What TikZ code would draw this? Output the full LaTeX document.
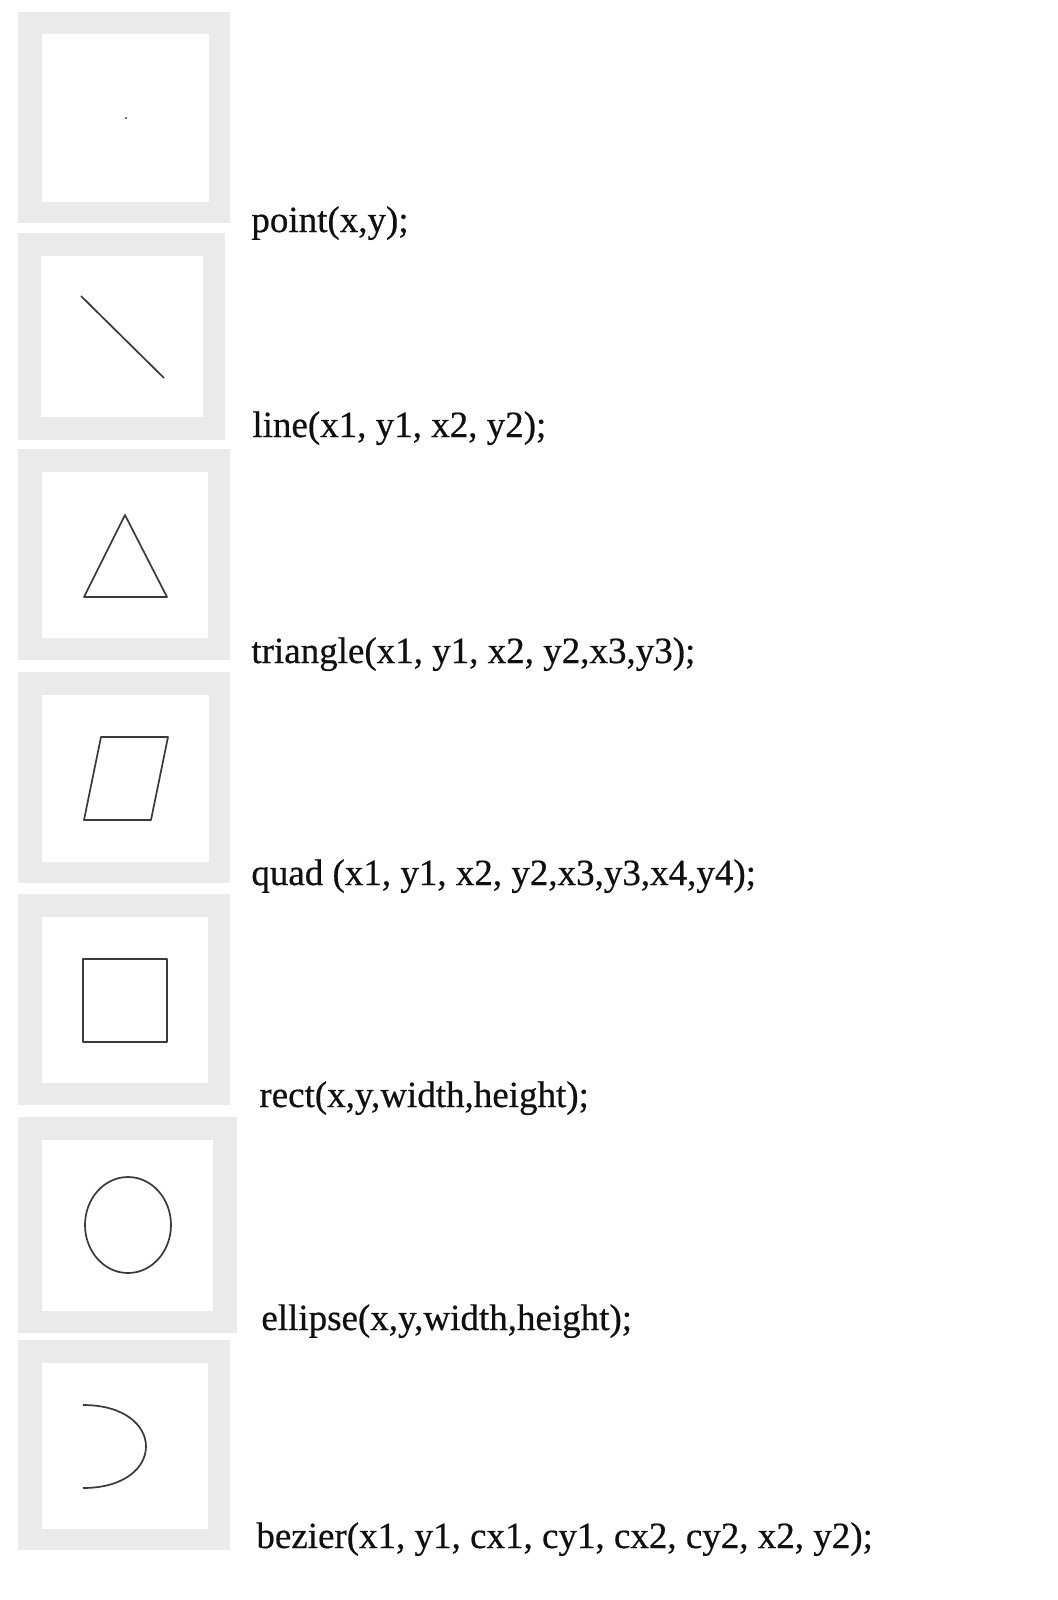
\documentclass[tikz,border=0pt]{standalone}
\usepackage{fontspec}
\setmainfont{Liberation Serif}
\newfontfamily\labelfont[FakeBold=0.5]{Liberation Serif}
\definecolor{framegray}{HTML}{EAEAEA}
\definecolor{shapegray}{HTML}{3A3A3A}
\definecolor{textblack}{HTML}{101010}
\tikzset{
  frameout/.style={fill=framegray, draw=none},
  framein/.style={fill=white, draw=none},
  figline/.style={draw=shapegray, line width=0.85pt, line join=round},
  label/.style={anchor=base west, inner sep=0pt, text=textblack, font=\labelfont\fontsize{18.5}{20}\selectfont}
}
\begin{document}
\begin{tikzpicture}[x=0.5pt,y=-0.5pt]
\useasboundingbox[fill=white] (0,0) rectangle (1057,1600);
% panel 1: point
\fill[frameout] (18,12) rectangle (230,223);
\fill[framein] (42,34) rectangle (209,202);
\fill[shapegray] (126,118) circle (1.2);
\node[label] (tpoint) at (251,232) {point(x,y);};
% panel 2: line
\fill[frameout] (18,233) rectangle (225,440);
\fill[framein] (41,256) rectangle (203,417);
\coordinate (l1) at (81,296);
\coordinate (l2) at (164,378);
\draw[figline] (l1) -- (l2);
\node[label] (tline) at (252,437) {line(x1, y1, x2, y2);};
% panel 3: triangle
\fill[frameout] (18,449) rectangle (230,660);
\fill[framein] (42,472) rectangle (208,638);
\coordinate (t1) at (125,515);
\coordinate (t2) at (84,597);
\coordinate (t3) at (167,597);
\draw[figline] (t1) -- (t2) -- (t3) -- cycle;
\node[label] (ttri) at (251,663) {triangle(x1, y1, x2, y2,x3,y3);};
% panel 4: quad
\fill[frameout] (18,672) rectangle (230,883);
\fill[framein] (42,695) rectangle (209,862);
\coordinate (q1) at (101,737);
\coordinate (q2) at (168,737);
\coordinate (q3) at (151,820);
\coordinate (q4) at (84,820);
\draw[figline] (q1) -- (q2) -- (q3) -- (q4) -- cycle;
\node[label] (tquad) at (251,885) {quad (x1, y1, x2, y2,x3,y3,x4,y4);};
% panel 5: rect
\fill[frameout] (18,894) rectangle (230,1105);
\fill[framein] (42,917) rectangle (208,1083);
\coordinate (r1) at (83,959);
\coordinate (r2) at (167,1042);
\draw[figline] (r1) rectangle (r2);
\node[label] (trect) at (259,1107) {rect(x,y,width,height);};
% panel 6: ellipse
\fill[frameout] (18,1117) rectangle (237,1333);
\fill[framein] (42,1140) rectangle (213,1311);
\coordinate (e0) at (128,1225);
\draw[figline] (e0) ellipse [x radius=43, y radius=48];
\node[label] (tell) at (261,1330) {ellipse(x,y,width,height);};
% panel 7: bezier
\fill[frameout] (18,1340) rectangle (230,1550);
\fill[framein] (42,1363) rectangle (208,1529);
\coordinate (b1) at (83,1405);
\coordinate (c1) at (167,1405);
\coordinate (c2) at (167,1488);
\coordinate (b2) at (83,1488);
\draw[figline] (b1) .. controls (c1) and (c2) .. (b2);
\node[label] (tbez) at (256,1548) {bezier(x1, y1, cx1, cy1, cx2, cy2, x2, y2);};
\end{tikzpicture}
\end{document}
